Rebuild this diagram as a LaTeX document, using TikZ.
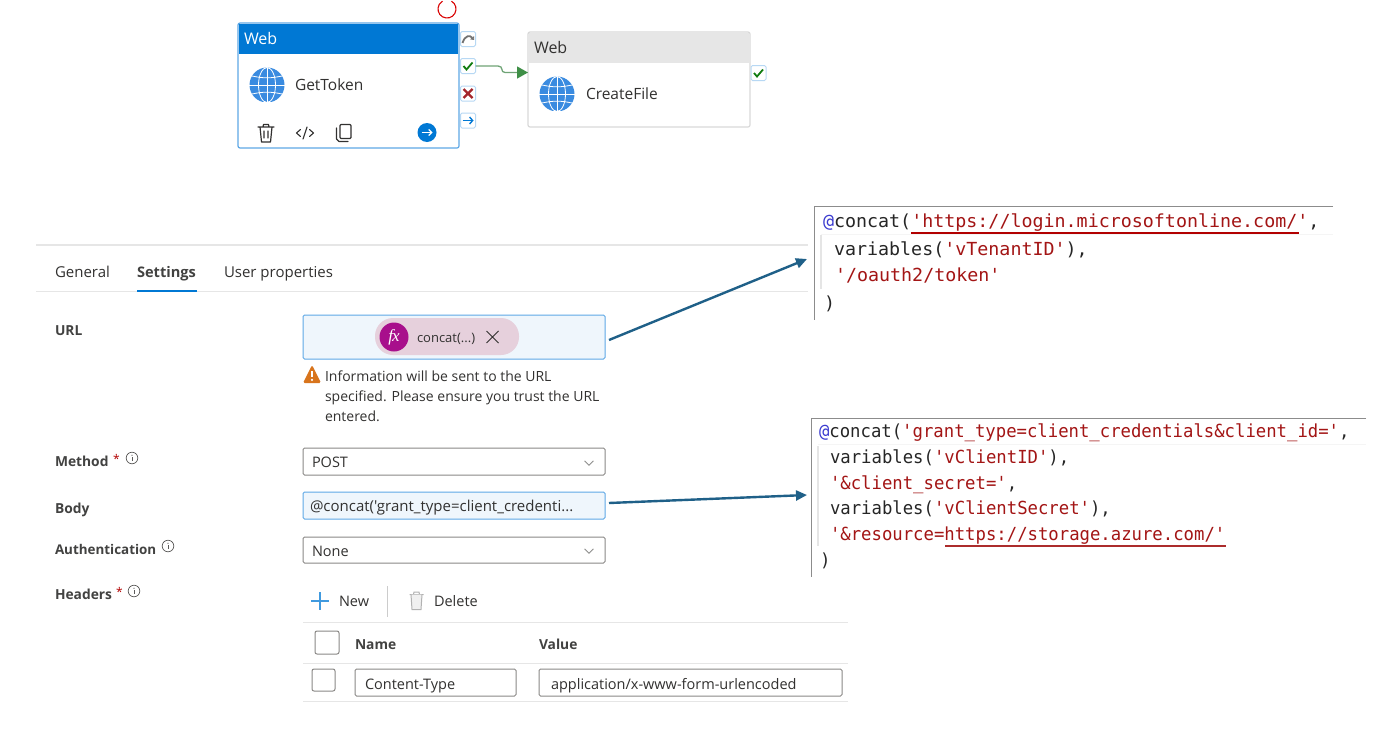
\documentclass[tikz,border=0pt]{standalone}
\usepackage{fontspec}
\usepackage{graphicx}
\setmainfont{Open Sans}
\newfontfamily\plainf{Open Sans}
\newfontfamily\cod{DejaVu Sans Mono}
\newfontfamily\fxf[Scale=1]{Liberation Serif}
\usetikzlibrary{arrows.meta,calc}
\definecolor{azure}{HTML}{0078D4}
\definecolor{azlt}{HTML}{5EA8E6}
\definecolor{txt}{HTML}{323130}
\definecolor{fieldg}{HTML}{8A8886}
\definecolor{fieldb}{HTML}{EFF6FC}
\definecolor{strc}{HTML}{A31515}
\definecolor{tealc}{HTML}{1F6088}
\definecolor{lineg}{HTML}{E6E6E6}
\definecolor{okg}{HTML}{107C10}
\definecolor{failr}{HTML}{A4262C}
\definecolor{globe}{HTML}{3A8BE0}
\definecolor{pillc}{HTML}{E6D0DC}
\definecolor{fxc}{HTML}{A80F8C}
\definecolor{wiregreen}{HTML}{6FA476}
\definecolor{tipgreen}{HTML}{3F8F47}
\definecolor{warnc}{HTML}{D8741C}
\tikzset{
  lab/.style={anchor=west,inner sep=0pt,outer sep=0pt,text=txt,text height=13pt,text depth=2pt,font=\fontsize{14.5}{16}\selectfont},
  slab/.style={lab,text=txt!92,font=\fontsize{13.8}{16}\selectfont\bfseries},
  rbox/.style={inner sep=0pt,outer sep=0pt,draw=fieldg,line width=1pt,fill=white,rounded corners=1.5pt},
  bbox/.style={rbox,draw=azlt,fill=fieldb},
  port/.style={inner sep=0pt,outer sep=0pt,draw=azlt!45,line width=1pt,fill=white,rounded corners=1.5pt,minimum size=15pt},
  codel/.style={anchor=west,inner sep=0pt,outer sep=0pt,text=black!85,text height=17pt,text depth=4pt},
  hline/.style={draw=lineg,line width=1pt},
  callout/.style={draw=tealc,line width=2.4pt,-{Triangle[length=11pt,width=10pt]}},
  icon/.style={draw=txt,line width=1.2pt,line cap=round,line join=round}
}
\newcommand{\bx}[6][]{\node[#2,minimum width={#5-#3},minimum height={#6-#4},#1] at ({(#3+#5)/2},{(#4+#6)/2})}
\newcommand{\globeicon}[2]{%
  \begin{scope}
    \clip (#1-18,#2-18) rectangle (#1+18,#2+16);
    \fill[globe] (#1,#2) circle (17.5);
    \begin{scope}[draw=white,line width=.8pt]
      \draw (#1,#2-17.5) -- (#1,#2+17.5);
      \draw (#1-18,#2) -- (#1+18,#2);
      \draw (#1,#2) ellipse (8.5 and 17.5);
      \draw (#1-15,#2-9) to[bend right=12] (#1+15,#2-9);
      \draw (#1-15,#2+9) to[bend left=12] (#1+15,#2+9);
    \end{scope}
  \end{scope}}
\newcommand{\infoi}[2]{%
  \draw[draw=txt!80,line width=.7pt] (#1,#2) circle (5.8);
  \fill[txt!80] (#1,#2-2.8) circle (.7);
  \draw[draw=txt!80,line width=.8pt] (#1,#2-1) -- (#1,#2+3);}
\newcommand{\chev}[2]{\draw[draw=txt!55,line width=.8pt] (#1-4.5,#2-2.2) -- (#1,#2+2.2) -- (#1+4.5,#2-2.2);}
\newcommand{\cl}[1]{\fontsize{18}{20}\cod #1}
\newcommand{\ats}{\textcolor[HTML]{3B3BD0}{@}}
\newcommand{\st}[1]{\textcolor{strc}{#1}}
\newcommand{\us}{\char"5F\relax}
\begin{document}
\begin{tikzpicture}[x=1pt,y=-1pt]
\useasboundingbox (0,0) rectangle (1400,739);
\fill[white] (0,0) rectangle (1400,739);

% spinner
\draw[draw=red!85!black,line width=1.1pt] (447,9) ++(-60:9) arc (-60:240:9);

% GetToken card
\bx[rounded corners=2pt]{inner sep=0pt,outer sep=0pt,draw=azlt,line width=1.2pt,fill=white}{238}{23}{459}{148} (cardA) {};
\fill[azure] (238.6,23.6) rectangle (458.4,54);
\node[lab,text=white,font=\fontsize{16}{18}\selectfont] (wA) at (244,39) {Web};
\globeicon{267}{85}
\node[lab,font=\fontsize{15.5}{18}\selectfont] (nameA) at (295,84.5) {GetToken};
% trash
\draw[icon] (258,127) -- (274,127) (263,127) -- (263.5,124.5) -- (268.5,124.5) -- (269,127)
  (260,127) -- (261.5,142) -- (270.5,142) -- (272,127)
  (264,131) -- (264,138) (268,131) -- (268,138);
% code
\draw[icon,line width=1.1pt] (300.5,129.5) -- (296.5,133) -- (300.5,136.5) (309.5,129.5) -- (313.5,133) -- (309.5,136.5) (303,139) -- (307,127);
% copy
\draw[icon,rounded corners=1pt] (340,124.5) rectangle (351,138.5);
\draw[icon] (336.5,128) -- (336.5,139) -- (339,141.5) -- (348,141.5);
\node[circle,fill=azure,minimum size=19pt,inner sep=0pt] (goA) at (427,132.5) {};
\draw[white,line width=1.1pt,-{Straight Barb[length=3pt,width=6pt]}] (421.5,132.5) -- (432.5,132.5);

% ports
\node[port] (pskip) at (468,39) {};
\node[port] (pok) at (468,66) {};
\node[port] (pfail) at (468,93.5) {};
\node[port] (pdone) at (468,120.5) {};
\draw[draw=black!55,line width=1.8pt,-{Triangle[length=3pt,width=5pt]}] (462.5,43) .. controls (465,35) and (470,35) .. (474,40);
\draw[draw=okg,line width=1.8pt] (463.5,66) -- (466.5,69.5) -- (472.5,62.5);
\draw[draw=failr,line width=2.2pt] (463.5,89) -- (472.5,98) (472.5,89) -- (463.5,98);
\draw[draw=azure,line width=1.4pt,-{Straight Barb[length=3pt,width=7pt]}] (462.5,120.5) -- (473.5,120.5);

% CreateFile card
\bx[rounded corners=2pt]{inner sep=0pt,outer sep=0pt,draw=black!15,line width=1.2pt,fill=white}{528}{32}{750}{127} (cardB) {};
\fill[lineg] (528.6,32.6) rectangle (749.4,63);
\node[lab,font=\fontsize{16}{18}\selectfont] (wB) at (534,48) {Web};
\globeicon{557}{94}
\node[lab,font=\fontsize{15.5}{18}\selectfont] (nameB) at (586,93.5) {CreateFile};
\node[port] (pokB) at (758.5,73) {};
\draw[draw=okg,line width=1.8pt] (754,73) -- (757,76.5) -- (763,69.5);

% green connector
\coordinate (gy) at (0,72.5);
\draw[draw=wiregreen,line width=1.3pt,-{Triangle[length=11pt,width=12pt,color=tipgreen,fill=tipgreen]}] (pok.east) -- (498,66) .. controls (504,66) and (500,72.5) .. (505,72.5) -- (cardB.west |- gy);

% tabs
\draw[draw=lineg,line width=2pt] (36,244.5) -- (808,244.5);
\draw[hline] (36,291.5) -- (808,291.5);
\node[lab,font=\fontsize{15}{16}\selectfont] (tGen) at (55,272) {General};
\node[slab,font=\fontsize{14.6}{16}\selectfont\bfseries] (tSet) at (137,272) {Settings};
\node[lab,font=\fontsize{15}{16}\selectfont] (tUsr) at (224,272) {User properties};
\draw[draw=azure,line width=2pt] (137,290.5) -- (197,290.5);

% URL
\node[slab] (lUrl) at (55,330) {URL};
\bx{bbox}{303}{315}{605}{359} (urlbox) {};
\bx[rounded corners=18pt]{inner sep=0pt,fill=pillc}{375}{318}{519}{355} (pill) {};
\node[circle,fill=fxc,minimum size=29pt,inner sep=0pt,text=white,font=\fontsize{17}{18}\fxf\itshape] (fx) at (394,337) {f\kern-1pt x};
\node[lab,font=\fontsize{13}{16}\selectfont] (cc) at (417,337) {concat(...)};
\draw[draw=txt,line width=.9pt] (486.5,331) -- (498.5,343) (498.5,331) -- (486.5,343);
\fill[warnc,rounded corners=1.5pt] (312,365) -- (321,383) -- (303,383) -- cycle;
\fill[white] (311,370.5) rectangle (313,377);
\fill[white] (312,379.8) circle (1.2);
\node[lab,font=\fontsize{14}{16}\selectfont] (w1) at (325,376) {Information will be sent to the URL};
\node[lab,font=\fontsize{14}{16}\selectfont] (w2) at (325,396) {specified. Please ensure you trust the URL};
\node[lab,font=\fontsize{14}{16}\selectfont] (w3) at (325,416) {entered.};

% Method
\node[slab] (lMeth) at (55,461) {Method};
\node[lab,text=red!70!black,font=\fontsize{12}{14}\selectfont] (sM) at (113,458) {*};
\infoi{132}{458}
\bx{rbox}{303}{448}{605}{475} (methbox) {};
\node[lab] (post) at (312,462) {POST};
\chev{589}{463}

% Body
\node[slab] (lBody) at (55,508) {Body};
\bx{bbox}{303}{492}{605}{519} (bodybox) {};
\node[lab,font=\fontsize{15}{16}\selectfont\plainf] (bt) at (310,506) {@concat('grant\us type=client\us credenti...};

% Auth
\node[slab,font=\fontsize{13.4}{16}\selectfont\bfseries] (lAuth) at (55,549) {Authentication};
\infoi{168}{546}
\bx{rbox}{303}{537}{605}{563} (authbox) {};
\node[lab] (none) at (312,551) {None};
\chev{589}{551}

% Headers
\node[slab] (lHead) at (55,594) {Headers};
\node[lab,text=red!70!black,font=\fontsize{12}{14}\selectfont] (sH) at (116,591) {*};
\infoi{134}{591}
\draw[draw=azure!75,line width=1.2pt] (311,601) -- (329,601) (320,592) -- (320,610);
\node[lab] (nw) at (339,601) {New};
\draw[draw=black!20,line width=1pt] (387.5,586) -- (387.5,617);
\draw[draw=black!30,line width=1pt] (409.5,594.5) -- (423.5,594.5) (413.5,594.5) -- (414,592) -- (419,592) -- (419.5,594.5);
\draw[draw=black!30,line width=1pt,fill=black!6] (411,594.5) -- (412,609.5) -- (421,609.5) -- (422,594.5);
\node[lab] (del) at (434,601) {Delete};
\draw[hline,line width=1.2pt] (303,622.5) -- (848,622.5);
\bx[rounded corners=2pt]{rbox}{315}{631}{339}{654} (ckA) {};
\node[slab] (hN) at (355,644) {Name};
\node[slab] (hV) at (539,644) {Value};
\draw[hline,line width=1.2pt] (303,663.5) -- (848,663.5);
\bx[rounded corners=2pt]{rbox}{312}{669}{335}{691} (ckB) {};
\bx{rbox}{355}{669}{516}{696} (nameBox) {};
\node[lab] (ct) at (365,684) {Content-Type};
\bx{rbox}{539}{669}{842}{696} (valBox) {};
\node[lab] (av) at (551,684) {application/x-www-form-urlencoded};
\draw[hline,line width=1.2pt] (303,701.5) -- (848,701.5);

% code block A
\bx{inner sep=0pt,outer sep=0pt}{814}{206}{1333}{320} (codeA) {};
\draw[draw=black!45,line width=1pt] (1333,206.5) -- (814,206.5) -- (814,320);
\draw[draw=black!10,line width=1.5pt] (821,235) -- (821,289);
\draw[draw=black!4,line width=1.5pt] (821,234.5) -- (1333,234.5);
\node[codel] (a1) at (823,221) {\scalebox{1.018}[1]{\cl{\ats concat(\st{'https://login.microsoftonline.com/'},}}};
\node[codel] (a2) at (834,249) {\scalebox{1.018}[1]{\cl{variables(\st{'vTenantID'}),}}};
\node[codel] (a3) at (835,275) {\scalebox{1.018}[1]{\cl{\st{'/oauth2/token'}}}};
\node[codel] (a4) at (824,303) {\scalebox{1.018}[1]{\cl{)}}};
\draw[draw=red!70!black,line width=1.5pt] (911,233) -- (1299,233);

% code block B
\bx{inner sep=0pt,outer sep=0pt}{811}{418}{1366}{577} (codeB) {};
\draw[draw=black!45,line width=1pt] (1366,418.5) -- (811,418.5) -- (811,577);
\draw[draw=black!10,line width=1.5pt] (818,446) -- (818,546);
\draw[draw=black!4,line width=1.5pt] (818,444.5) -- (1366,444.5);
\node[codel] (b1) at (819,431) {\scalebox{.96}[1]{\cl{\ats concat(\st{'grant\us type=client\us credentials\&client\us id='},}}};
\node[codel] (b2) at (830,457) {\scalebox{.96}[1]{\cl{variables(\st{'vClientID'}),}}};
\node[codel] (b3) at (830,483) {\scalebox{.96}[1]{\cl{\st{'\&client\us secret='},}}};
\node[codel] (b4) at (830,508) {\scalebox{.96}[1]{\cl{variables(\st{'vClientSecret'}),}}};
\node[codel] (b5) at (830,534) {\scalebox{.96}[1]{\cl{\st{'\&resource=https://storage.azure.com/'}}}};
\node[codel] (b6) at (820,560) {\scalebox{.96}[1]{\cl{)}}};
\draw[draw=strc!90,line width=1.5pt] (945,546) -- (1226,546);

% callouts
\draw[callout] ([shift={(4pt,-3pt)}]urlbox.east) -- ([shift={(-7pt,4pt)}]codeA.west);
\draw[callout] ([shift={(4pt,2.5pt)}]bodybox.east) -- ([shift={(-4pt,2.5pt)}]codeB.west);
\end{tikzpicture}
\end{document}
